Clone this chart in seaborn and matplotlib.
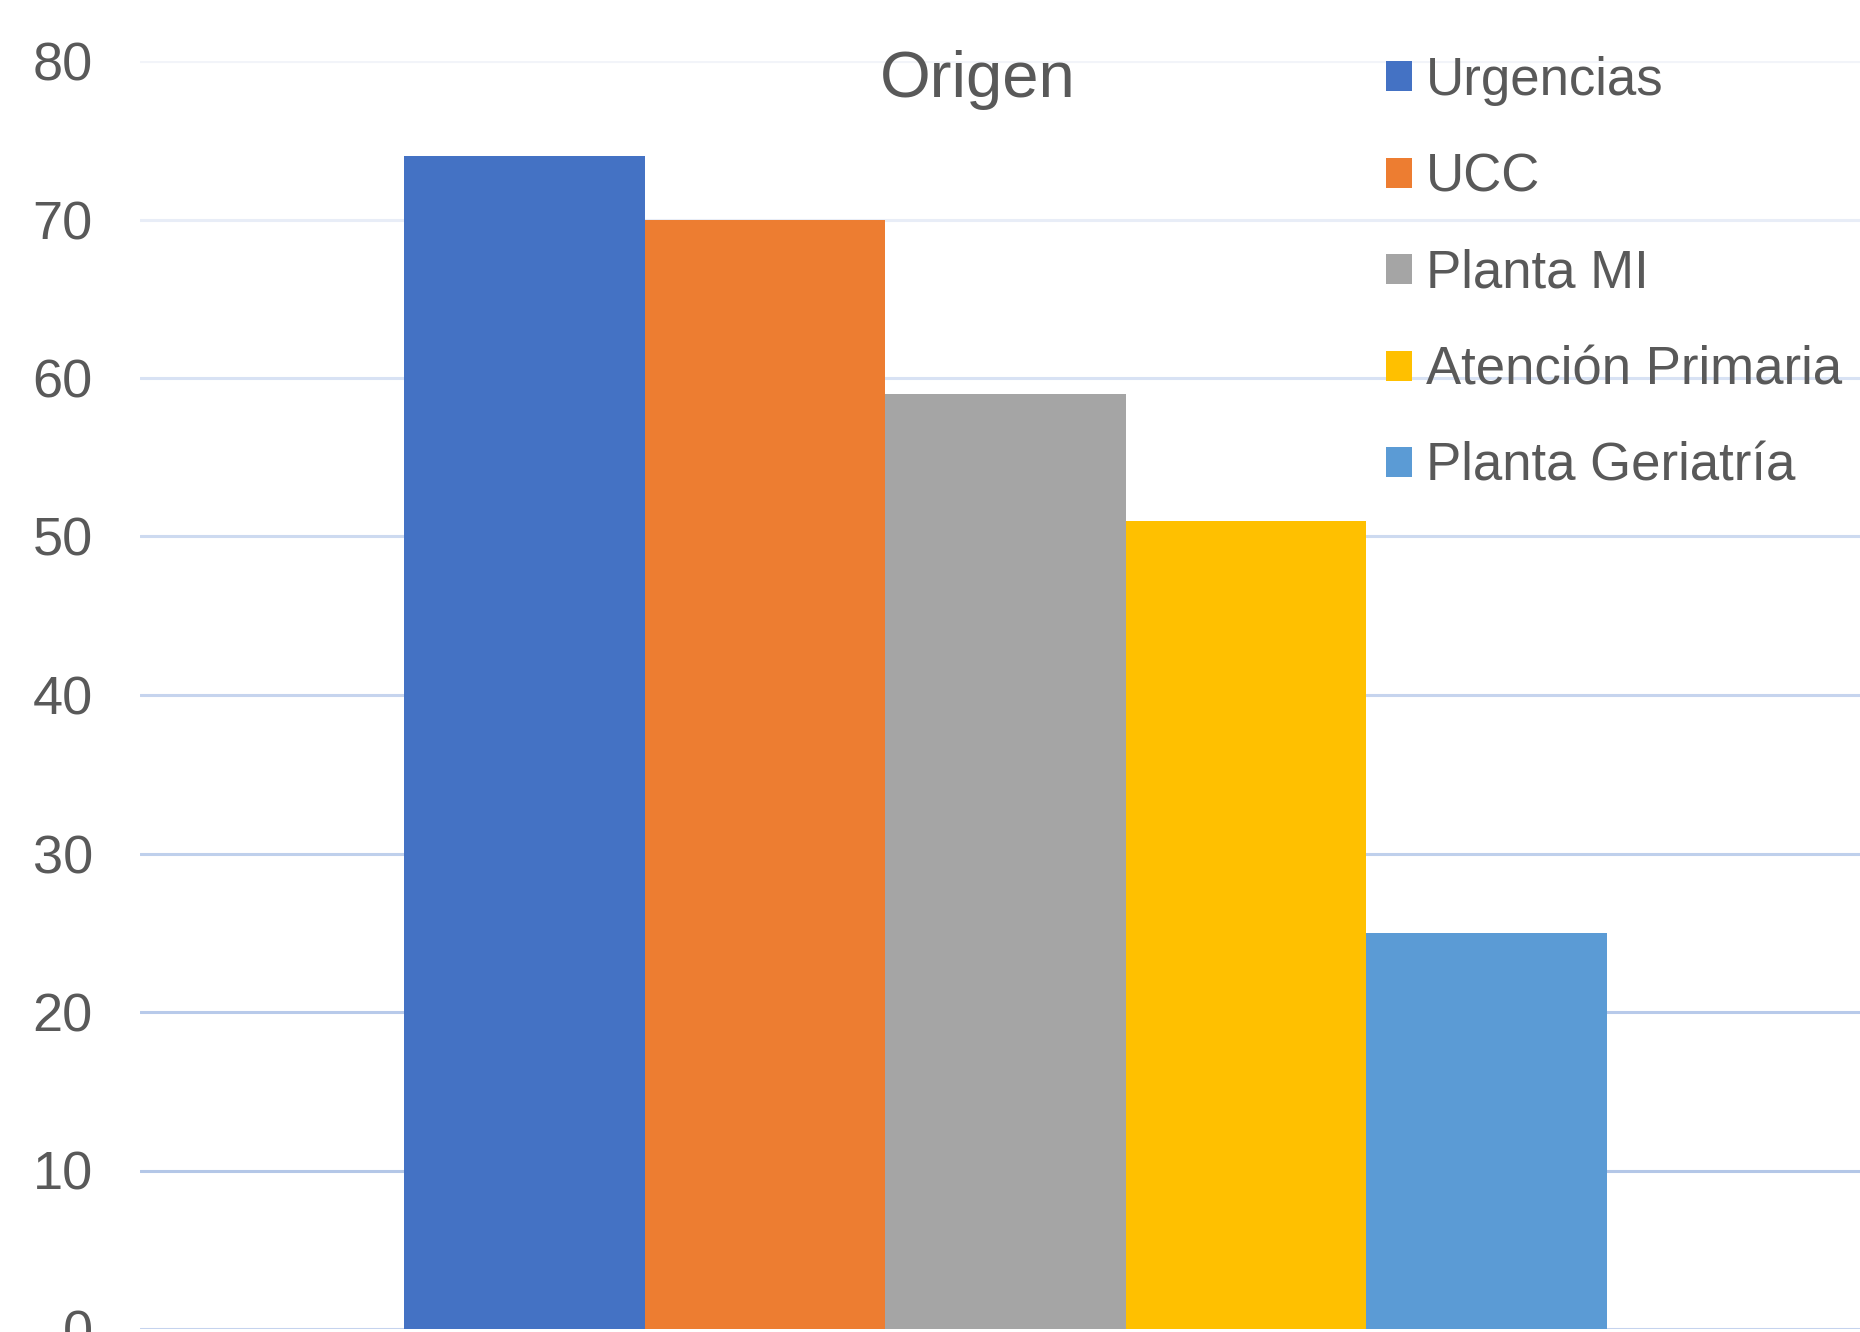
import matplotlib
matplotlib.use("Agg")
import matplotlib.pyplot as plt
import seaborn as sns
import pandas as pd

# Data
origenes = ["Urgencias", "UCC", "Planta MI", "Atención Primaria", "Planta Geriatría"]
pacientes = [74, 70, 59, 51, 25]
grupo = ["Origen"] * len(origenes)
y_ticks = [0, 10, 20, 30, 40, 50, 60, 70, 80]

# Styling
bar_colors = ["#4472C4", "#ED7D31", "#A5A5A5", "#FFC000", "#5B9BD5"]
grid_colors = ["#C5D3EE", "#B4C7E7", "#B8CAEA", "#BFD0EC", "#C6D4EE",
               "#CDDAF0", "#D8E2F4", "#E8EDF7", "#F2F4F9"]
text_color = "#595959"

sns.set_theme(style="white")
plt.rcParams["font.family"] = ["Liberation Sans", "DejaVu Sans"]

df = pd.DataFrame({"grupo": grupo, "origen": origenes, "pacientes": pacientes})

W, H = 1860, 1332
fig = plt.figure(figsize=(W / 100, H / 100), dpi=100)
ax = fig.add_axes([140 / W, 3 / H, 1731 / W, 1268 / H])

for t, c in zip(y_ticks, grid_colors):
    ax.axhline(t, color=c, lw=2.2, zorder=0)

sns.barplot(data=df, x="grupo", y="pacientes", hue="origen",
            hue_order=origenes, palette=bar_colors, width=0.695,
            saturation=1, dodge=True, ax=ax, zorder=2, legend=True,
            linewidth=0, edgecolor="none")

ax.set_xlim(-0.5, 0.5)
ax.set_ylim(0, 80)
ax.set_yticks(y_ticks)
ax.set_yticklabels([str(t) for t in y_ticks], fontsize=39, color=text_color)
ax.tick_params(axis="y", length=0, pad=34)
ax.set_xticks([])
ax.set_xlabel("")
ax.set_ylabel("")
for s in ax.spines.values():
    s.set_visible(False)

handles, labels = ax.get_legend_handles_labels()
ax.legend(handles, labels, loc="upper left",
          bbox_to_anchor=(1386 / W, (H - 56) / H), bbox_transform=fig.transFigure,
          frameon=False, fontsize=38, labelcolor=text_color,
          handlelength=0.5, handleheight=0.5, handletextpad=0.25,
          labelspacing=0.88, borderpad=0, borderaxespad=0)

fig.text(978 / W, (H - 97) / H, "Origen", ha="center", va="baseline",
         fontsize=47, color=text_color)

fig.savefig("out.png", dpi=100)
